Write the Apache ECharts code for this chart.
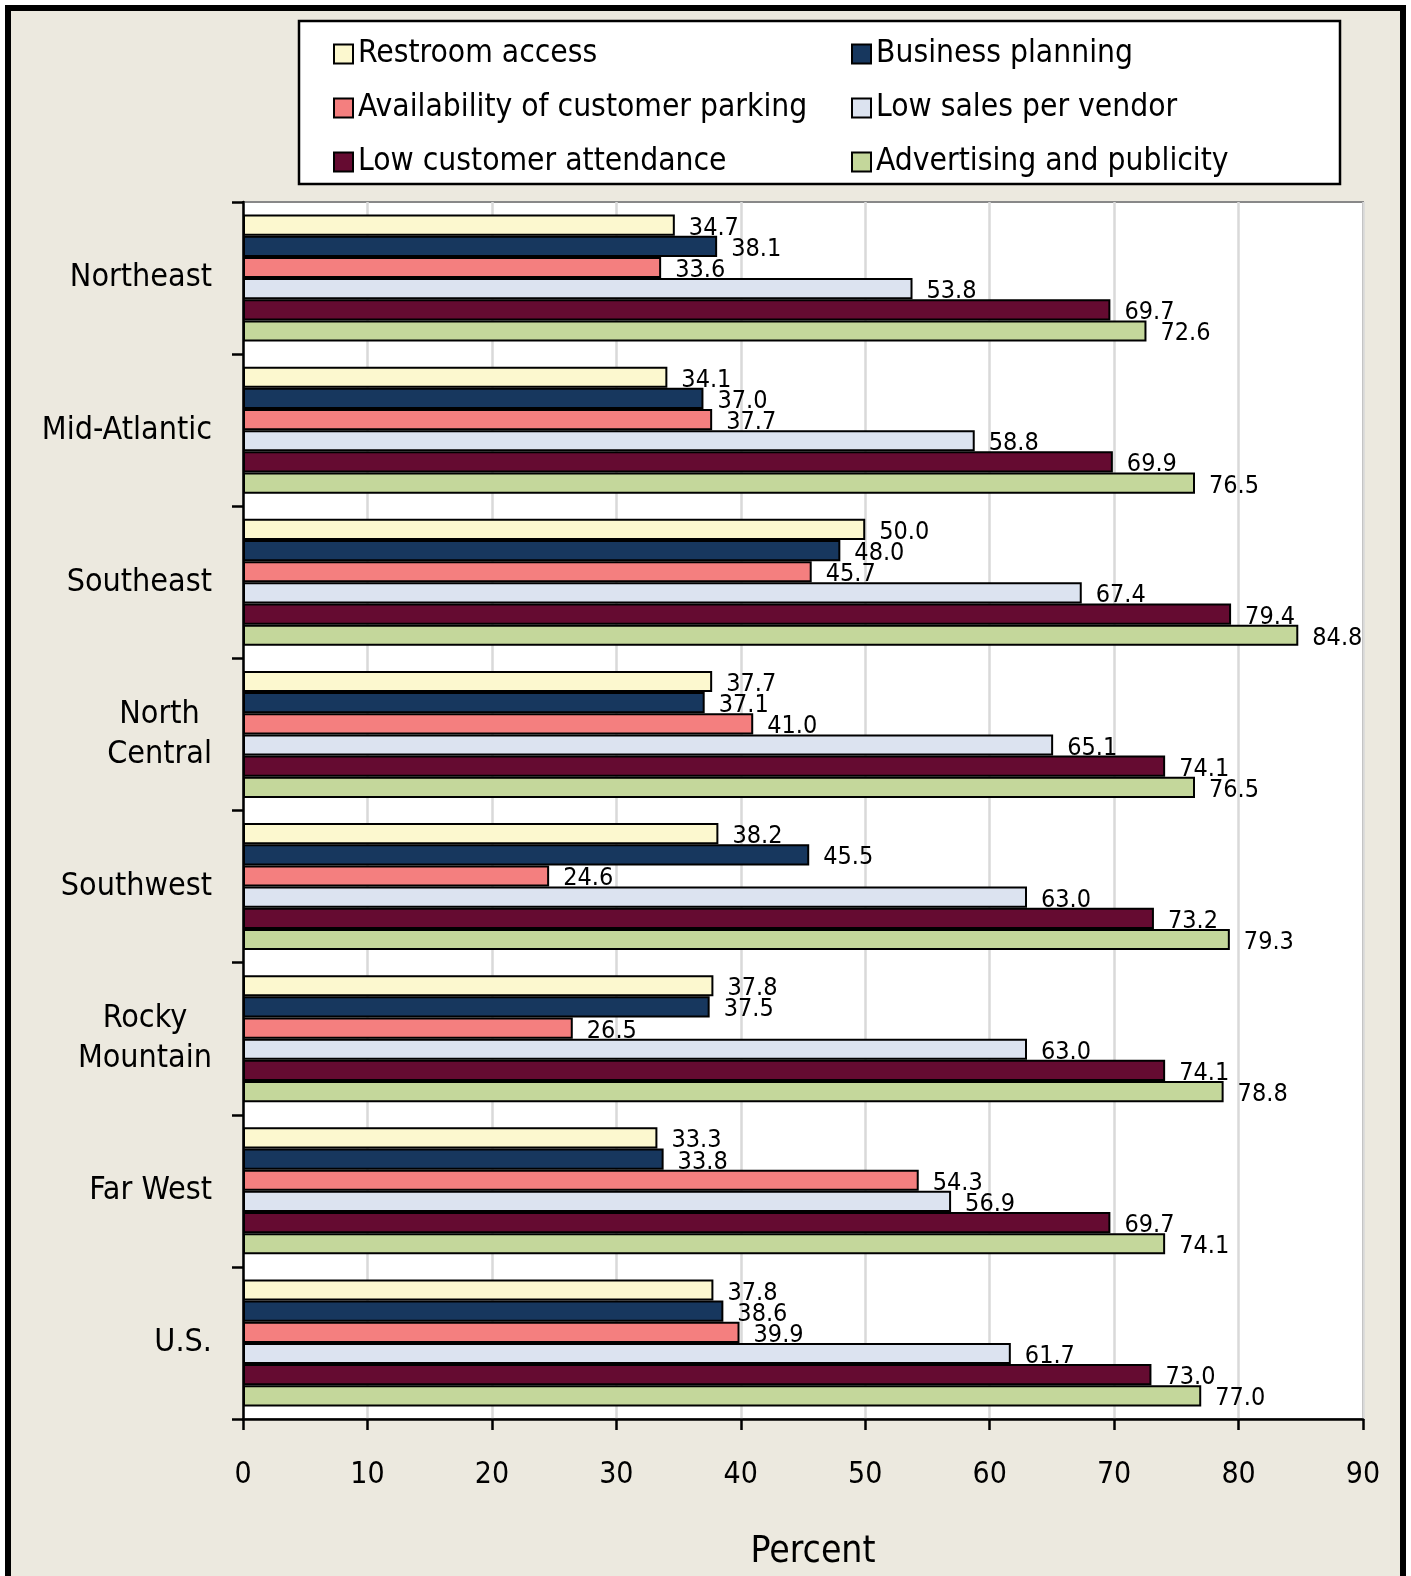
<!DOCTYPE html>
<html>
<head>
<meta charset="utf-8">
<script src="https://cdn.jsdelivr.net/npm/echarts@6/dist/echarts.min.js"></script>
<style>
html,body{margin:0;padding:0;background:#fff;}
#chart{width:1411px;height:1576px;}
</style>
</head>
<body>
<div id="chart"></div>
<script>
const categories = ['Northeast', 'Mid-Atlantic', 'Southeast', 'North\nCentral', 'Southwest', 'Rocky\nMountain', 'Far West', 'U.S.'];
const seriesNames = ['Restroom access', 'Business planning', 'Availability of customer parking', 'Low sales per vendor', 'Low customer attendance', 'Advertising and publicity'];
const restroom     = [34.7, 34.1, 50.0, 37.7, 38.2, 37.8, 33.3, 37.8];
const business     = [38.1, 37.0, 48.0, 37.1, 45.5, 37.5, 33.8, 38.6];
const parking      = [33.6, 37.7, 45.7, 41.0, 24.6, 26.5, 54.3, 39.9];
const lowSales     = [53.8, 58.8, 67.4, 65.1, 63.0, 63.0, 56.9, 61.7];
const attendance   = [69.7, 69.9, 79.4, 74.1, 73.2, 74.1, 69.7, 73.0];
const advertising  = [72.6, 76.5, 84.8, 76.5, 79.3, 78.8, 74.1, 77.0];
const xTicks = [0, 10, 20, 30, 40, 50, 60, 70, 80, 90];

const seriesData = [restroom, business, parking, lowSales, attendance, advertising];
const colors = ['#FCF8CF', '#17375E', '#F47F7F', '#DCE3F0', '#650B31', '#C4D79B'];
const FONT = "'Liberation Sans Narrow', 'Arial Narrow', 'DejaVu Sans Condensed', sans-serif";

const chart = echarts.init(document.getElementById('chart'), null, {renderer: 'canvas'});

const series = seriesNames.map((name, i) => ({
  name: name,
  type: 'bar',
  data: seriesData[i],
  z: 2 + i,
  barGap: '0%',
  barCategoryGap: '16.5%',
  itemStyle: { color: colors[i], borderColor: '#000', borderWidth: 2 },
  label: {
    show: true,
    position: 'right',
    distance: 14,
    offset: [0, 3],
    formatter: p => p.value.toFixed(1),
    fontFamily: FONT,
    fontSize: 25,
    color: '#000'
  },
  emphasis: { disabled: true },
  animation: false
}));

const option = {
  backgroundColor: '#fff',
  animation: false,
  graphic: [
    { type: 'rect', z: -10, shape: { x: 8, y: 8, width: 1395, height: 1620 }, style: { fill: '#ECE9DF', stroke: '#000', lineWidth: 6 } },
    { type: 'rect', z: -5, shape: { x: 299, y: 21, width: 1041, height: 163 }, style: { fill: '#fff', stroke: '#000', lineWidth: 2.5 } }
  ],
  legend: [
    {
      data: [seriesNames[0], seriesNames[2], seriesNames[4]],
      orient: 'vertical', left: 328, top: 33,
      itemWidth: 19, itemHeight: 19, itemGap: 22,
      icon: 'rect',
      textStyle: { fontFamily: FONT, fontSize: 31.5, color: '#000' },
      selectedMode: false
    },
    {
      data: [seriesNames[1], seriesNames[3], seriesNames[5]],
      orient: 'vertical', left: 846, top: 33,
      itemWidth: 19, itemHeight: 19, itemGap: 22,
      icon: 'rect',
      textStyle: { fontFamily: FONT, fontSize: 31.5, color: '#000' },
      selectedMode: false
    }
  ],
  grid: {
    left: 243, right: 48, top: 202, bottom: 156,
    show: true, backgroundColor: '#fff', borderColor: '#888', borderWidth: 2
  },
  xAxis: {
    type: 'value', min: xTicks[0], max: xTicks[xTicks.length - 1], interval: 10,
    name: 'Percent', nameLocation: 'middle', nameGap: 115,
    nameTextStyle: { fontFamily: FONT, fontSize: 37, color: '#000', padding: [0, 0, 0, 20] },
    axisLine: { show: true, lineStyle: { color: '#000', width: 2.5 } },
    axisTick: { show: true, length: 11, lineStyle: { color: '#000', width: 2.5 } },
    axisLabel: { margin: 41, fontFamily: FONT, fontSize: 30, color: '#000' },
    splitLine: { show: true, lineStyle: { color: '#D9D9D9', width: 2.5 } }
  },
  yAxis: {
    type: 'category', inverse: true, data: categories,
    axisLine: { show: true, lineStyle: { color: '#000', width: 2.5 } },
    axisTick: { show: true, length: 11, lineStyle: { color: '#000', width: 2.5 } },
    axisLabel: {
      margin: 31, fontFamily: FONT, fontSize: 32, color: '#000', lineHeight: 40, align: 'right',
      formatter: v => v.split('\n').map(s => '{c|' + s + '}').join('\n'),
      rich: { c: { align: 'center', fontFamily: FONT, fontSize: 32, lineHeight: 40, color: '#000' } }
    },
    splitLine: { show: false }
  },
  series: series
};
chart.setOption(option);
</script>
</body>
</html>
